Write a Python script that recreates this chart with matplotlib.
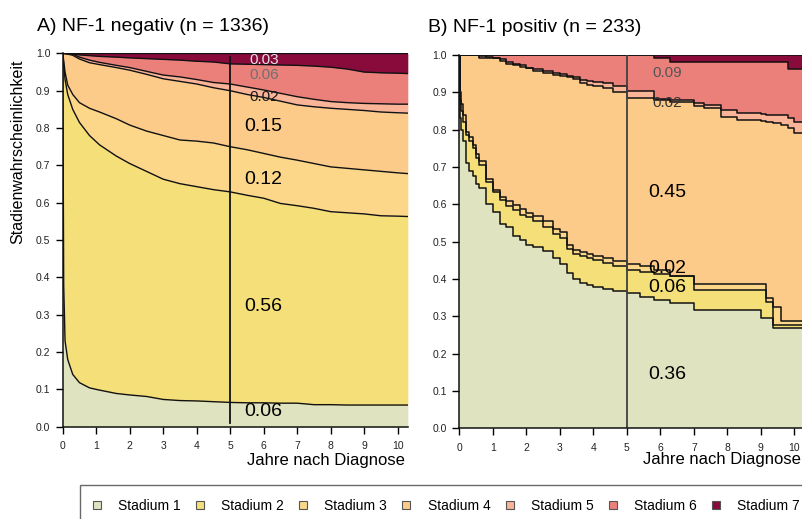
import numpy as np
import matplotlib
matplotlib.use("Agg")
import matplotlib.pyplot as plt
from matplotlib.lines import Line2D

plt.rcParams["font.family"] = ["Liberation Sans", "DejaVu Sans"]

stages = ["Stadium 1", "Stadium 2", "Stadium 3", "Stadium 4",
          "Stadium 5", "Stadium 6", "Stadium 7"]
stage_colors = ["#DFE3BF", "#F4DF79", "#FCD78A", "#FDCB89",
                "#FAB498", "#EB807A", "#890B3B"]

# Panel A (NF-1 negativ): cumulative stage probabilities
a_time = [0, 0.03, 0.07, 0.15, 0.3, 0.5, 0.8, 1.1, 1.6, 2.0, 2.5, 3.0, 3.5,
          4.0, 4.5, 5.0, 5.5, 6.0, 6.5, 7.0, 7.5, 8.0, 8.5, 9.0, 9.5, 10.0, 10.3]
a_cum1 = [1.0, 0.38, 0.23, 0.18, 0.14, 0.118, 0.104, 0.098, 0.089, 0.085, 0.081,
          0.073, 0.070, 0.069, 0.067, 0.065, 0.064, 0.064, 0.063, 0.063, 0.059,
          0.059, 0.058, 0.058, 0.058, 0.058, 0.058]
a_cum2 = [1.0, 0.97, 0.93, 0.89, 0.85, 0.815, 0.78, 0.755, 0.725, 0.705, 0.684,
          0.663, 0.651, 0.643, 0.635, 0.629, 0.62, 0.612, 0.598, 0.592, 0.585,
          0.576, 0.573, 0.570, 0.565, 0.564, 0.563]
a_cum3 = [1.0, 0.98, 0.95, 0.915, 0.89, 0.868, 0.853, 0.843, 0.825, 0.808, 0.792,
          0.78, 0.768, 0.765, 0.76, 0.75, 0.742, 0.732, 0.722, 0.714, 0.705,
          0.696, 0.692, 0.688, 0.684, 0.68, 0.678]
a_cum4 = [1.0, 1.0, 0.999, 0.998, 0.995, 0.985, 0.975, 0.97, 0.962, 0.955, 0.944,
          0.932, 0.925, 0.918, 0.908, 0.9, 0.89, 0.882, 0.872, 0.862, 0.857,
          0.853, 0.85, 0.847, 0.843, 0.841, 0.84]
a_cum5 = [1.0, 1.0, 1.0, 0.999, 0.998, 0.99, 0.982, 0.976, 0.968, 0.962, 0.952,
          0.942, 0.937, 0.93, 0.922, 0.918, 0.91, 0.902, 0.893, 0.884, 0.877,
          0.871, 0.868, 0.866, 0.865, 0.864, 0.864]
a_cum6 = [1.0, 1.0, 1.0, 1.0, 0.999, 0.996, 0.994, 0.992, 0.99, 0.988, 0.986,
          0.984, 0.982, 0.979, 0.977, 0.972, 0.971, 0.97, 0.969, 0.968, 0.966,
          0.963, 0.958, 0.95, 0.948, 0.947, 0.946]
a_labels = ["0.06", "0.56", "0.12", "0.15", "0.02", "0.06", "0.03"]
a_label_y = [0.042, 0.323, 0.661, 0.803, 0.883, 0.943, 0.983]

# Panel B (NF-1 positiv): step curves
b_time = [0, 0.02, 0.05, 0.1, 0.2, 0.3, 0.4, 0.5, 0.6, 0.8, 1.0, 1.2, 1.4, 1.6,
          1.8, 2.0, 2.2, 2.5, 2.8, 3.0, 3.2, 3.4, 3.6, 3.8, 4.0, 4.3, 4.6, 5.0,
          5.4, 5.8, 6.3, 7.0, 7.3, 7.8, 8.3, 9.0, 9.15, 9.35, 9.6, 9.8, 10.0, 10.3]
b_cum1 = [1.0, 0.83, 0.80, 0.77, 0.71, 0.69, 0.675, 0.655, 0.645, 0.60, 0.58,
          0.548, 0.54, 0.515, 0.504, 0.492, 0.487, 0.476, 0.455, 0.44, 0.415,
          0.40, 0.388, 0.383, 0.378, 0.372, 0.367, 0.362, 0.353, 0.344, 0.335,
          0.317, 0.317, 0.317, 0.317, 0.295, 0.295, 0.27, 0.27, 0.27, 0.27, 0.27]
b_cum2 = [1.0, 0.88, 0.85, 0.82, 0.785, 0.77, 0.75, 0.725, 0.705, 0.66, 0.632,
          0.612, 0.596, 0.585, 0.572, 0.565, 0.555, 0.54, 0.52, 0.51, 0.48,
          0.468, 0.462, 0.456, 0.45, 0.444, 0.436, 0.424, 0.42, 0.414, 0.408,
          0.37, 0.37, 0.37, 0.37, 0.37, 0.339, 0.277, 0.277, 0.277, 0.277, 0.277]
b_cum3 = [1.0, 0.90, 0.87, 0.84, 0.795, 0.78, 0.76, 0.735, 0.715, 0.668, 0.638,
          0.62, 0.608, 0.598, 0.588, 0.576, 0.568, 0.556, 0.535, 0.527, 0.49,
          0.478, 0.472, 0.468, 0.462, 0.456, 0.448, 0.439, 0.434, 0.425, 0.408,
          0.386, 0.386, 0.386, 0.386, 0.386, 0.348, 0.325, 0.288, 0.288, 0.288,
          0.288]
b_cum4 = [1.0, 1.0, 1.0, 1.0, 1.0, 1.0, 1.0, 1.0, 0.991, 0.991, 0.991, 0.985,
          0.976, 0.972, 0.968, 0.964, 0.958, 0.952, 0.946, 0.944, 0.94, 0.935,
          0.925, 0.92, 0.917, 0.912, 0.90, 0.884, 0.884, 0.882, 0.875, 0.863,
          0.857, 0.833, 0.826, 0.822, 0.82, 0.818, 0.812, 0.805, 0.792, 0.792]
b_cum5 = [1.0, 1.0, 1.0, 1.0, 1.0, 1.0, 1.0, 1.0, 0.997, 0.995, 0.993, 0.988,
          0.98, 0.976, 0.972, 0.966, 0.962, 0.958, 0.952, 0.95, 0.945, 0.94,
          0.932, 0.93, 0.928, 0.924, 0.916, 0.904, 0.904, 0.88, 0.879, 0.872,
          0.866, 0.852, 0.845, 0.842, 0.84, 0.84, 0.838, 0.83, 0.82, 0.82]
b_cum6 = [1.0] * 29 + [0.993, 0.982, 0.982, 0.982, 0.982, 0.982, 0.982, 0.982,
                       0.982, 0.982, 0.963, 0.963, 0.963]
b_labels = ["0.36", "0.06", "0.02", "0.45", "0.02", "0.09"]
b_label_y = [0.145, 0.376, 0.427, 0.633, 0.871, 0.953]

# the thin top stages get smaller, greyer labels
small_labels = {"A": [(4, "#1a1a1a"), (5, "#707070"), (6, "#e4e4e4")],
                "B": [(4, "#333333"), (5, "#555555")]}

W, H = 803, 519
fig = plt.figure(figsize=(W / 100, H / 100), dpi=100)
ax_a = fig.add_axes([62.7 / W, 1 - 426.7 / H, 345.1 / W, 373.3 / H])
ax_b = fig.add_axes([459.3 / W, 1 - 428.3 / H, 345.1 / W, 373.3 / H])


def draw_panel(ax, t, cums, step, labels, label_y, label_x, small, vline_span, vline_color):
    t = np.asarray(t)
    bounds = [np.zeros_like(t, dtype=float)] + [np.asarray(c, float) for c in cums] + [np.ones_like(t, dtype=float)]
    where = "post" if step else None
    for i, col in enumerate(stage_colors):
        ax.fill_between(t, bounds[i], bounds[i + 1], color=col, lw=0, step=where)
    for b in bounds[1:]:
        if step:
            ax.step(t, b, where="post", color="#111111", lw=1.1)
        else:
            ax.plot(t, b, color="#111111", lw=1.0)
    ax.plot([5, 5], vline_span, color=vline_color, lw=1.3)

    small_idx = dict(small)
    for i, (txt, y) in enumerate(zip(labels, label_y)):
        if i in small_idx:
            ax.text(label_x, y, txt, ha="center", va="center", fontsize=11, color=small_idx[i])
        else:
            ax.text(label_x, y, txt, ha="center", va="center", fontsize=14, color="black")

    ax.set_xlim(0, 10.3)
    ax.set_ylim(0, 1)
    ax.set_xticks(range(0, 11))
    ax.set_yticks(np.arange(0, 1.01, 0.1))
    ax.set_yticklabels([f"{v:.1f}" for v in np.arange(0, 1.01, 0.1)])
    for s in ["top", "right"]:
        ax.spines[s].set_visible(False)
    for s in ["left", "bottom"]:
        ax.spines[s].set_linewidth(1.1)
        ax.spines[s].set_color("#111111")
    ax.tick_params(axis="x", length=4.8, width=1, pad=5.5, labelsize=7.5, labelcolor="#222222")
    ax.tick_params(axis="y", length=4.8, width=1, pad=4, labelsize=7.5, labelcolor="#222222")


draw_panel(ax_a, a_time, [a_cum1, a_cum2, a_cum3, a_cum4, a_cum5, a_cum6], False,
           a_labels, a_label_y, 6.0, small_labels["A"], [0.01, 0.99], "#111111")
draw_panel(ax_b, b_time, [b_cum1, b_cum2, b_cum3, b_cum4, b_cum5, b_cum6], True,
           b_labels, b_label_y, 6.2, small_labels["B"], [0, 1], "#404040")

fig.text(36.7 / W, 1 - 31 / H, "A) NF-1 negativ (n = 1336)", fontsize=14, va="baseline", ha="left")
fig.text(428.3 / W, 1 - 31.5 / H, "B) NF-1 positiv (n = 233)", fontsize=14, va="baseline", ha="left")
fig.text(405 / W, 1 - 465 / H, "Jahre nach Diagnose", fontsize=12, va="baseline", ha="right")
fig.text(800.7 / W, 1 - 464 / H, "Jahre nach Diagnose", fontsize=12, va="baseline", ha="right")
fig.text(18 / W, 1 - 152 / H, "Stadienwahrscheinlichkeit", fontsize=11.5, rotation=90,
         va="center", ha="center")

# legend, spaced so that each entry takes ~103 px
leg_size = 10
fpx = leg_size * 100 / 72
period, bpad, hl, htp = 103.1, 13.5, 6.4, 18.1
handles = [Line2D([0], [0], marker="s", ls="none", markersize=5.5, markerfacecolor=c,
                  markeredgecolor="#555555", markeredgewidth=0.8) for c in stage_colors]


def make_legend(colsp):
    lg = fig.legend(handles, stages, loc="upper left", bbox_to_anchor=(80 / W, 1 - 485 / H),
                    bbox_transform=fig.transFigure, ncol=7, frameon=True, fancybox=False,
                    borderpad=bpad / fpx, handlelength=hl / fpx, handletextpad=htp / fpx,
                    columnspacing=colsp / fpx, borderaxespad=0, fontsize=leg_size)
    lg.get_frame().set_edgecolor("#444444")
    lg.get_frame().set_linewidth(1.0)
    return lg


leg = make_legend(12)
fig.canvas.draw()
tw = leg.get_texts()[0].get_window_extent(fig.canvas.get_renderer()).width
leg.remove()
leg = make_legend(period - hl - htp - tw)

fig.savefig("out.png", dpi=100)
